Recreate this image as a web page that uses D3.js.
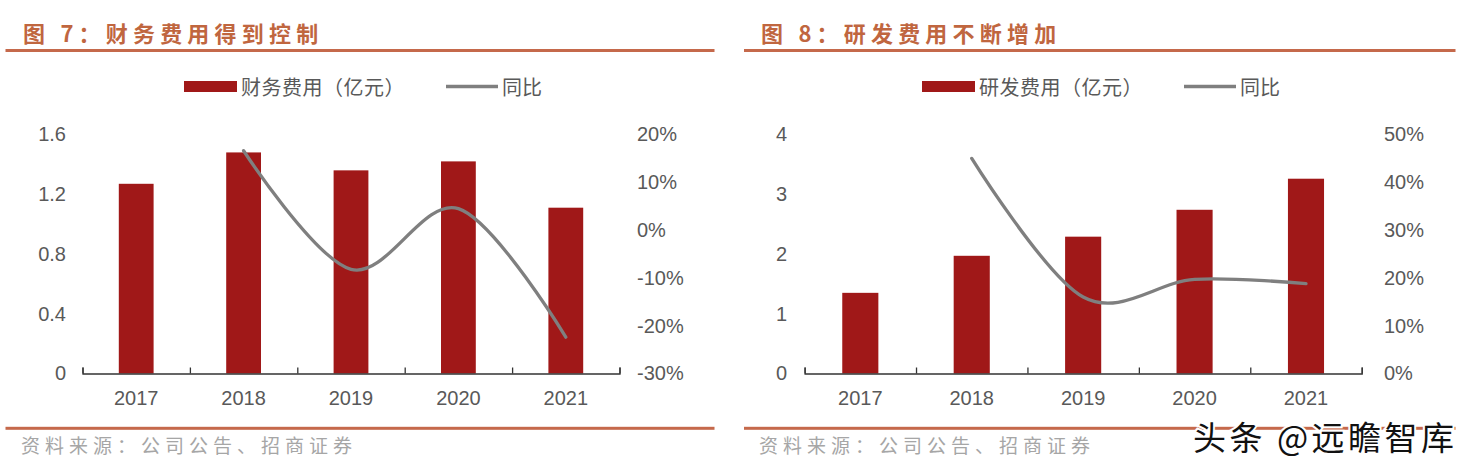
<!DOCTYPE html>
<html>
<head>
<meta charset="utf-8">
<script src="https://cdn.jsdelivr.net/npm/d3@7"></script>
<style>
  html, body { margin: 0; padding: 0; background: #fff; }
  svg { display: block; }
  .cjk { font-family: "Noto Sans CJK SC", "Noto Sans", sans-serif; }
  .num { font-family: "Liberation Sans", Arial, sans-serif; }
</style>
</head>
<body>
<div id="chart"></div>
<script>
// chart data
const years = ["2017", "2018", "2019", "2020", "2021"];

const financeCost = [1.27, 1.48, 1.36, 1.42, 1.11];
const financeYoY = [null, 16.6, -8.2, 4.5, -22.4];
const financeTicks = [0, 0.4, 0.8, 1.2, 1.6];
const financePctTicks = [-30, -20, -10, 0, 10, 20];

const rdCost = [1.35, 1.97, 2.29, 2.74, 3.26];
const rdYoY = [null, 45.0, 16.0, 19.7, 18.8];
const rdTicks = [0, 1, 2, 3, 4];
const rdPctTicks = [0, 10, 20, 30, 40, 50];

const W = 1479, H = 471;
const ruleColor = "#c5694b";
const titleColor = "#c0663f";
const barColor = "#a01818";
const lineColor = "#7f7f7f";
const textColor = "#595959";

const svg = d3.select("#chart").append("svg")
  .attr("width", W)
  .attr("height", H);

svg.append("rect").attr("width", W).attr("height", H).attr("fill", "#fff");

function drawPanel(opts) {
  const g = svg.append("g");

  // title + rules
  g.append("text")
    .attr("class", "cjk")
    .attr("x", opts.titleX)
    .attr("y", 32)
    .attr("dominant-baseline", "central")
    .attr("fill", titleColor)
    .style("font-size", "22px")
    .style("font-weight", 700)
    .style("letter-spacing", "5.2px")
    .text(opts.title);

  g.append("rect")
    .attr("x", opts.ruleX0).attr("y", 49)
    .attr("width", opts.ruleX1 - opts.ruleX0).attr("height", 3)
    .attr("fill", ruleColor);

  g.append("rect")
    .attr("x", opts.ruleX0).attr("y", 426.8)
    .attr("width", opts.ruleX1 - opts.ruleX0).attr("height", 3)
    .attr("fill", ruleColor);

  g.append("text")
    .attr("class", "cjk")
    .attr("x", opts.titleX - 2)
    .attr("y", 444)
    .attr("dominant-baseline", "central")
    .attr("fill", "#a6a6a6")
    .style("font-size", "19px")
    .style("letter-spacing", "5px")
    .text("资料来源：公司公告、招商证券");

  // legend
  const lg = g.append("g");
  lg.append("rect")
    .attr("x", opts.legendX).attr("y", 81)
    .attr("width", 53).attr("height", 11)
    .attr("fill", barColor);
  lg.append("text")
    .attr("class", "cjk")
    .attr("x", opts.legendX + 57)
    .attr("y", 86.5)
    .attr("dominant-baseline", "central")
    .attr("fill", textColor)
    .style("font-size", "20px")
    .style("letter-spacing", "0.5px")
    .text(opts.legendBar);
  lg.append("line")
    .attr("x1", opts.legendX + 262).attr("x2", opts.legendX + 314)
    .attr("y1", 86.5).attr("y2", 86.5)
    .attr("stroke", lineColor)
    .attr("stroke-width", 3.5);
  lg.append("text")
    .attr("class", "cjk")
    .attr("x", opts.legendX + 318)
    .attr("y", 86.5)
    .attr("dominant-baseline", "central")
    .attr("fill", textColor)
    .style("font-size", "20px")
    .text("同比");

  // scales
  const top = 134.5, bottom = 373.5;
  const x = d3.scaleBand()
    .domain(years)
    .range([opts.x0, opts.x1])
    .paddingInner(0.676)
    .paddingOuter(0.338);
  const y = d3.scaleLinear()
    .domain(d3.extent(opts.ticks))
    .range([bottom, top]);
  const y2 = d3.scaleLinear()
    .domain(d3.extent(opts.pctTicks))
    .range([bottom, top]);

  // bars
  g.append("g").selectAll("rect")
    .data(opts.values)
    .join("rect")
    .attr("x", (d, i) => x(years[i]))
    .attr("width", x.bandwidth())
    .attr("y", d => y(d))
    .attr("height", d => y(0) - y(d))
    .attr("fill", barColor);

  // x axis: boundary ticks pointing up
  const xb = d3.scaleLinear().domain([0, years.length]).range([opts.x0, opts.x1]);
  const xAxis = g.append("g")
    .attr("transform", `translate(0,${bottom})`)
    .call(d3.axisBottom(xb)
      .tickValues(d3.range(years.length + 1))
      .tickSize(-6)
      .tickFormat(""));
  xAxis.selectAll("path, line")
    .attr("stroke", "#333")
    .attr("stroke-width", 1.3);

  g.append("g").selectAll("text")
    .data(years)
    .join("text")
    .attr("class", "num")
    .attr("x", d => x(d) + x.bandwidth() / 2)
    .attr("y", 405)
    .attr("text-anchor", "middle")
    .attr("fill", textColor)
    .style("font-size", "20px")
    .text(d => d);

  // left axis labels
  const yAxis = g.append("g")
    .attr("transform", `translate(${opts.leftLabelX},0)`)
    .call(d3.axisLeft(y)
      .tickValues(opts.ticks)
      .tickSize(0)
      .tickPadding(0)
      .tickFormat(d => String(d)));
  yAxis.select(".domain").remove();
  yAxis.selectAll("text")
    .attr("class", "num")
    .attr("fill", textColor)
    .style("font-size", "20px");

  // right axis labels
  const y2Axis = g.append("g")
    .attr("transform", `translate(${opts.rightLabelX},0)`)
    .call(d3.axisRight(y2)
      .tickValues(opts.pctTicks)
      .tickSize(0)
      .tickPadding(0)
      .tickFormat(d => d + "%"));
  y2Axis.select(".domain").remove();
  y2Axis.selectAll("text")
    .attr("class", "num")
    .attr("fill", textColor)
    .style("font-size", "20px");

  // yoy line (smoothed)
  const pts = opts.yoy
    .map((v, i) => ({ year: years[i], v }))
    .filter(d => d.v != null);
  const line = d3.line()
    .x(d => x(d.year) + x.bandwidth() / 2)
    .y(d => y2(d.v))
    .curve(d3.curveCardinal.tension(0));
  g.append("path")
    .datum(pts)
    .attr("d", line)
    .attr("fill", "none")
    .attr("stroke", lineColor)
    .attr("stroke-width", 3.3)
    .attr("stroke-linecap", "round");
}

drawPanel({
  title: "图 7：财务费用得到控制",
  titleX: 23,
  ruleX0: 5.5, ruleX1: 714.5,
  legendX: 184,
  legendBar: "财务费用（亿元）",
  x0: 82.5, x1: 619.5,
  leftLabelX: 66,
  rightLabelX: 637,
  values: financeCost,
  yoy: financeYoY,
  ticks: financeTicks,
  pctTicks: financePctTicks
});

drawPanel({
  title: "图 8：研发费用不断增加",
  titleX: 761,
  ruleX0: 744, ruleX1: 1455.5,
  legendX: 922,
  legendBar: "研发费用（亿元）",
  x0: 804.6, x1: 1361.7,
  leftLabelX: 787,
  rightLabelX: 1384,
  values: rdCost,
  yoy: rdYoY,
  ticks: rdTicks,
  pctTicks: rdPctTicks
});

// watermark
svg.append("text")
  .attr("class", "cjk")
  .attr("x", 1193)
  .attr("y", 436)
  .attr("dominant-baseline", "central")
  .attr("fill", "#111")
  .attr("stroke", "#fff")
  .attr("stroke-width", 4)
  .attr("paint-order", "stroke")
  .style("font-size", "33px")
  .style("font-weight", 400)
  .style("letter-spacing", "3.5px")
  .text("头条 @远瞻智库");
</script>
</body>
</html>
